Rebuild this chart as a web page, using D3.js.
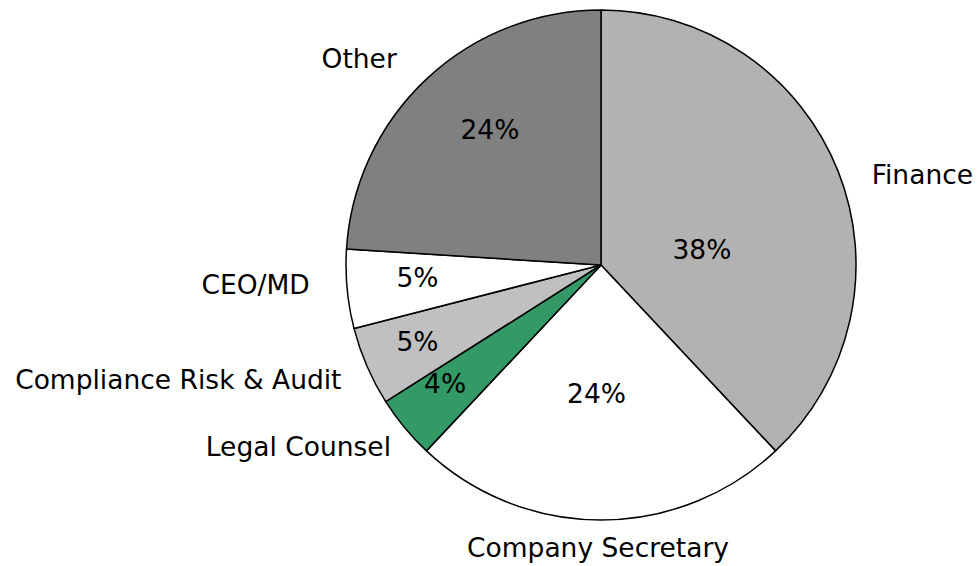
<!DOCTYPE html>
<html><head><meta charset="utf-8">
<script src="https://cdn.jsdelivr.net/npm/d3@7/dist/d3.min.js"></script>
<style>body{margin:0;background:#fff}svg{display:block}text{font-family:"DejaVu Sans",Arial,sans-serif;fill:#000}</style>
</head><body><svg id="c" width="980" height="566"></svg>
<script>
const categories = ["Finance","Company Secretary","Legal Counsel","Compliance Risk & Audit","CEO/MD","Other"];
const values = [38,24,4,5,5,24];
const colors = ["#b2b2b2","#ffffff","#339966","#c0c0c0","#ffffff","#808080"];
// label layout: [angle deg, radius px] of text centers
const pctPos = [[81.5,102],[182,129],[232.7,196],[247.3,199],[266,184],[320.6,175]];
const catPos = [[74.2,334],[180.6,283],[239,353],[254.8,438],[266.7,346],[310.5,318]];

const svg = d3.select("#c");
const cx = 601, cy = 265, R = 255;
const g = svg.append("g").attr("transform",`translate(${cx},${cy})`);
const data = categories.map((c,i)=>({cat:c,v:values[i],i}));
const pie = d3.pie().value(d=>d.v).sort(null);
const arc = d3.arc().innerRadius(0).outerRadius(R);
const arcs = pie(data);
g.selectAll("path").data(arcs).join("path")
  .attr("d",arc).attr("fill",d=>colors[d.data.i])
  .attr("stroke","#000").attr("stroke-width",1.5).attr("stroke-linejoin","round");
const polar = (a,r)=>[r*Math.sin(a*Math.PI/180), -r*Math.cos(a*Math.PI/180)];
g.selectAll("text.p").data(arcs).join("text").attr("class","p")
  .attr("x",d=>polar(...pctPos[d.data.i])[0]).attr("y",d=>polar(...pctPos[d.data.i])[1])
  .attr("text-anchor","middle").attr("dominant-baseline","central")
  .style("font-size","26.5px").text(d=>d.data.v+"%");
g.selectAll("text.c").data(arcs).join("text").attr("class","c")
  .attr("x",d=>polar(...catPos[d.data.i])[0]).attr("y",d=>polar(...catPos[d.data.i])[1])
  .attr("text-anchor","middle").attr("dominant-baseline","central")
  .style("font-size","26.5px").text(d=>d.data.cat);
</script></body></html>
